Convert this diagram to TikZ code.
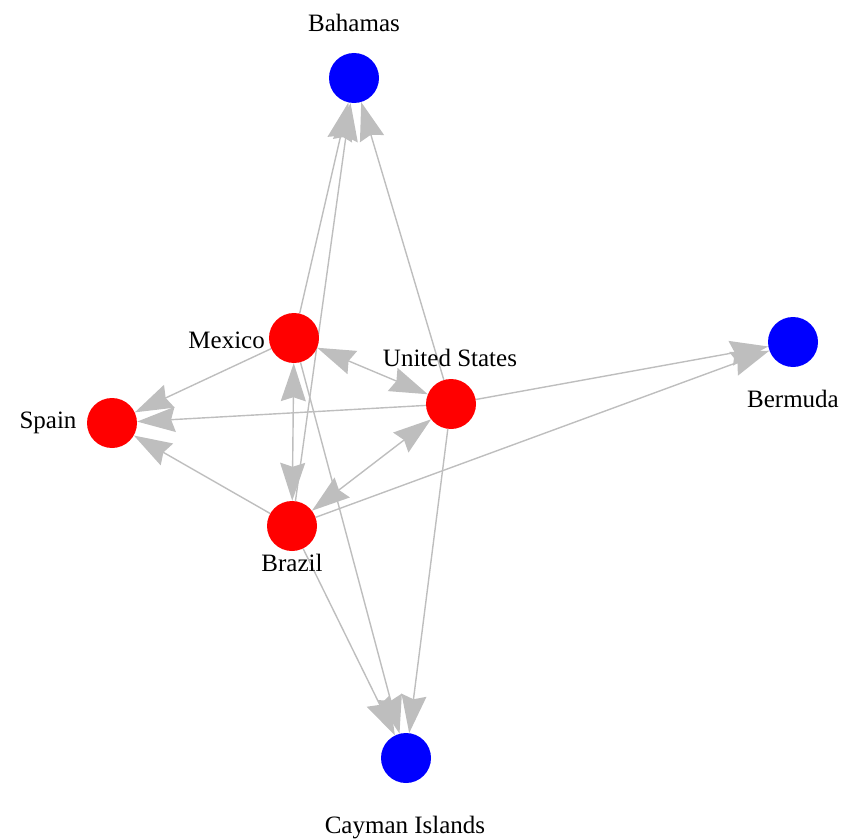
\documentclass[tikz,border=0pt]{standalone}
\usepackage{fontspec}
\setmainfont{Liberation Serif}
\usetikzlibrary{arrows.meta}
\definecolor{edgegray}{RGB}{190,190,190}
\pgfdeclarelayer{bg}
\pgfsetlayers{bg,main}
\tikzset{ahead/.tip={Stealth[length=38pt,width=25pt,inset=4pt,fill=edgegray]}}
\begin{document}
\begin{tikzpicture}[x=1pt,y=-1pt,
  vtx/.style={circle,minimum size=50pt,inner sep=0pt,draw=none},
  redv/.style={vtx,fill=red},
  bluev/.style={vtx,fill=blue},
  lbl/.style={font=\fontsize{25}{25}\selectfont,inner sep=0pt,anchor=center},
  edge/.style={draw=edgegray,line width=1.4pt,-ahead},
  biedge/.style={draw=edgegray,line width=1.4pt,ahead-ahead}]
\useasboundingbox (0,0) rectangle (844,840);
% vertices
\node[bluev] (bah) at (354,78) {};
\node[redv] (mex) at (294,338) {};
\node[redv] (us) at (451,404) {};
\node[redv] (spa) at (112,423) {};
\node[redv] (bra) at (292,526) {};
\node[bluev] (ber) at (793,342) {};
\node[bluev] (cay) at (406,758) {};
% labels
\node[lbl] (lbah) at (354,23) {Bahamas};
\node[lbl,anchor=east] (lmex) at (265,340) {Mexico};
\node[lbl] (lus) at (450,358) {United States};
\node[lbl] (lspa) at (48,423) {Spain};
\node[lbl] (lbra) at (292,563) {Brazil};
\node[lbl] (lber) at (793,399) {Bermuda};
\node[lbl] (lcay) at (405,828) {Cayman Islands};
% edges
\begin{pgfonlayer}{bg}
\draw[edge] (mex) -- (bah);
\draw[edge] (bra) -- (bah);
\draw[edge] (us) -- (bah);
\draw[edge] (mex) -- (spa);
\draw[edge] (us) -- (spa);
\draw[edge] (bra) -- (spa);
\draw[biedge] (mex) -- (us);
\draw[biedge] (mex) -- (bra);
\draw[biedge] (bra) -- (us);
\draw[edge] (us) -- (ber);
\draw[edge] (bra) -- (ber);
\draw[edge] (mex) -- (cay);
\draw[edge] (bra) -- (cay);
\draw[edge] (us) -- (cay);
\end{pgfonlayer}
\end{tikzpicture}
\end{document}
